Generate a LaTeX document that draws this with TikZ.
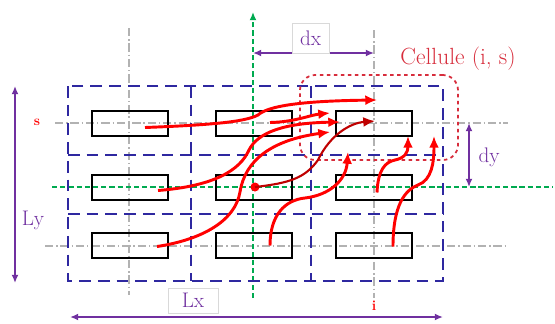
\documentclass[tikz,border=0pt]{standalone}
\usetikzlibrary{arrows.meta,positioning}
\definecolor{gridblue}{RGB}{46,40,160}
\definecolor{dimpurple}{RGB}{112,48,160}
\definecolor{axisgreen}{RGB}{0,170,80}
\definecolor{cellred}{RGB}{215,45,60}

\begin{document}
\begin{tikzpicture}[
  x=0.03cm, y=-0.03cm,
  rect/.style={draw, line width=2pt, minimum width=2.27cm, minimum height=0.74cm, inner sep=0pt},
  cellbox/.style={draw=cellred, dashed, line width=1.5pt, rounded corners=13pt, minimum width=4.74cm, minimum height=2.55cm},
  grid/.style={draw=gridblue, line width=2.5pt, dash pattern=on 10pt off 6pt},
  centre/.style={draw=gray!60, line width=1pt, dash pattern=on 7pt off 2.5pt on 1.2pt off 2.5pt},
  axis/.style={draw=axisgreen, line width=1.6pt, dash pattern=on 4.5pt off 2.5pt},
  flow/.style={-{Latex[length=10pt,width=8.5pt]}, line width=2.5pt, draw=red},
  dim/.style={{Latex[length=7pt,width=6pt]}-{Latex[length=7pt,width=6pt]}, line width=1.7pt, draw=dimpurple},
  lbl/.style={text=dimpurple, font=\fontsize{18}{20}\selectfont},
  lblbox/.style={lbl, draw=gray!30, line width=0.8pt, fill=white},
  tag/.style={text=red, font=\fontsize{12}{14}\selectfont\bfseries}
]
\useasboundingbox (0,0) rectangle (555,323);

% centre lines and axes
\draw[centre] (129,28) -- (129,295);
\draw[centre] (374,30) -- (374,298);
\draw[centre] (55,123) -- (508,123);
\draw[centre] (45,246) -- (506,246);
\draw[axis] (52,187) -- (553,187);
\draw[axis, -{Latex[length=7pt,width=6pt]}] (253,298) -- (253,12);

% cells
\draw[grid] (68,86) rectangle (443,281);
\draw[grid] (191,86) -- (191,281);
\draw[grid] (311,86) -- (311,281);
\draw[grid] (68,155) -- (443,155);
\draw[grid] (68,214) -- (443,214);

\node[cellbox] (cell) at (379,117.5) {};

\node[rect] (r11) at (130,123.5) {};
\node[rect] (r12) at (254,123.5) {};
\node[rect] (r13) at (374,123.5) {};
\node[rect] (r21) at (130,187.5) {};
\node[rect] (r22) at (254,187.5) {};
\node[rect] (r23) at (374,187.5) {};
\node[rect] (r31) at (130,245.5) {};
\node[rect] (r32) at (254,245.5) {};
\node[rect] (r33) at (374,245.5) {};

\node[circle, fill=red, inner sep=0pt, minimum size=0.27cm] (orig) at (255,187) {};

\coordinate (tA) at (377,100);
\coordinate (tB) at (330,113);
\coordinate (tC) at (340,122);
\coordinate (tD) at (330,132);
\coordinate (tE) at (375,121);
\coordinate (tF) at (408,136);
\coordinate (tG) at (434,136);
\coordinate (tH) at (348,152);

\draw[flow] ([shift={(15,4)}]r11.center) .. controls (210,125) and (245,122) .. (258,115)
  .. controls (268,106) and (300,101) .. (tA);
\draw[flow] ([shift={(16,-1)}]r12.center) .. controls (295,122) and (310,115) .. (tB);
\draw[flow] ([shift={(28,3)}]r21.center) .. controls (215,186) and (240,170) .. (249,150)
  .. controls (258,132) and (285,123) .. (tC);
\draw[flow] ([shift={(27,1)}]r31.center) .. controls (200,240) and (235,222) .. (240,192)
  .. controls (245,160) and (272,140) .. (tD);
\draw[flow, draw=red!75!black, line width=1.8pt] (orig.center) .. controls (290,183) and (305,178) .. (318,160)
  .. controls (330,135) and (350,123) .. (tE);
\draw[flow] ([shift={(3,5)}]r23.center) .. controls (378,170) and (385,162) .. (395,160)
  .. controls (405,158) and (408,152) .. (tF);
\draw[flow] ([shift={(19,1)}]r33.center) .. controls (393,205) and (405,190) .. (418,185)
  .. controls (432,180) and (434,162) .. (tG);
\draw[flow] ([shift={(16,0)}]r32.center) .. controls (270,215) and (285,200) .. (305,198)
  .. controls (330,195) and (346,180) .. (tH);

% dimensions
\coordinate (dxL) at (253,53);
\coordinate (dxR) at (374,53);
\coordinate (dyT) at (469,123);
\coordinate (dyB) at (469,187);
\coordinate (lyT) at (15,86);
\coordinate (lyB) at (15,283);
\coordinate (lxL) at (70,317);
\coordinate (lxR) at (443,317);

\draw[dim] (dxL) -- (dxR);
\draw[dim] (dyT) -- (dyB);
\draw[dim] (lyT) -- (lyB);
\draw[dim] (lxL) -- (lxR);

\node[lblbox, minimum width=1.11cm, minimum height=0.9cm] (dx) at (310.5,38) {dx};
\node[lbl] (dy) at (489,157) {dy};
\node[lbl] (Ly) at (33,220) {Ly};
\node[lblbox, minimum width=1.5cm, minimum height=0.75cm] (Lx) at (193,300.5) {Lx};

\node[tag] (s) at (37,122) {s};
\node[tag] (i) at (374,306) {i};
\node[text=cellred, font=\fontsize{20}{22}\selectfont] (title) at (458,59) {Cellule (i, s)};

\end{tikzpicture}
\end{document}
